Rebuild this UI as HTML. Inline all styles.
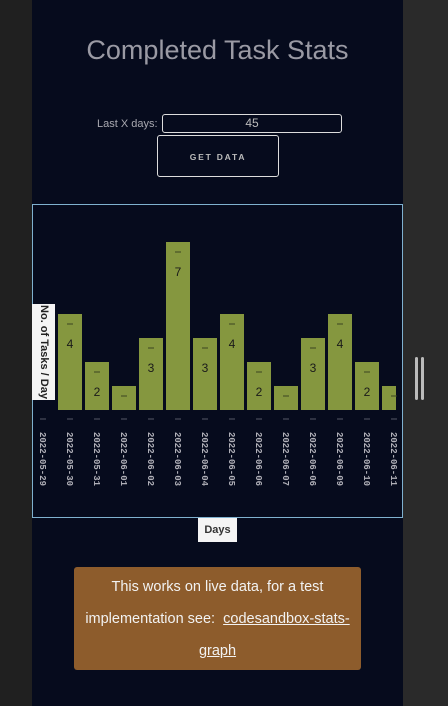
<!DOCTYPE html>
<html><head><meta charset="utf-8"><style>
body{margin:0;width:448px;height:706px;background:#202020;overflow:hidden;font-family:"Liberation Sans",sans-serif;position:relative}
#panel{position:absolute;left:32px;top:0;width:371px;height:706px;background:#060b1d}
#right{position:absolute;left:403px;top:0;width:45px;height:706px;background:#2a2a2a}
.abs{position:absolute}
</style></head><body>
<div id="right"></div>
<div class="abs" style="left:415px;top:357px;width:3px;height:43px;background:#bbb;border-radius:2px"></div>
<div class="abs" style="left:421px;top:357px;width:3px;height:43px;background:#bbb;border-radius:2px"></div>
<div id="panel"></div>
<div class="abs" style="left:32px;width:371px;top:35px;text-align:center;color:#9a9aa4;font-size:27px">Completed Task Stats</div>
<div class="abs" style="left:97px;top:118px;color:#a8a8b0;font-size:11px">Last X days:</div>
<div class="abs" style="left:162px;top:114px;width:178px;height:17px;border:1.5px solid #ddd;border-radius:3px;color:#bbb;font-size:12px;text-align:center;line-height:17px">45</div>
<div class="abs" style="left:157px;top:135px;width:120px;height:40px;border:1.5px solid #ddd;border-radius:3px;color:#bbb;font-size:8.5px;font-weight:bold;letter-spacing:1.8px;text-align:center;line-height:42px">GET DATA</div>
<svg class="abs" style="left:0;top:0" width="448" height="706" id="chart">
<rect x="32.5" y="204.5" width="370" height="313" fill="none" stroke="#7fb1cf" stroke-width="1"/>
<g id="bars"></g><g id="labels"></g>
</svg>
<div class="abs" style="left:32px;top:304px;width:23px;height:96px;background:#f4f4f4;"><div style="position:absolute;left:12px;top:48px;transform:translate(-50%,-50%) rotate(90deg);white-space:nowrap;font-size:11px;font-weight:bold;color:#222">No. of Tasks / Day</div></div>
<div class="abs" style="left:198px;top:518px;width:39px;height:24px;background:#f4f4f4;font-size:11px;font-weight:bold;color:#333;text-align:center;line-height:24px">Days</div>
<div class="abs" style="left:74px;top:567px;width:287px;height:103px;background:#8d5c2c;border-radius:3px;color:#f2f2f2;font-size:14.5px;text-align:center;line-height:32px;padding-top:4px;box-sizing:border-box">This works on live data, for a test implementation see:&nbsp; <span style="text-decoration:underline">codesandbox-stats-graph</span></div>
<script>
const labels=["2022-05-29","2022-05-30","2022-05-31","2022-06-01","2022-06-02","2022-06-03","2022-06-04","2022-06-05","2022-06-06","2022-06-07","2022-06-06","2022-06-09","2022-06-10","2022-06-11"];
const values=[0,4,2,1,3,7,3,4,2,1,3,4,2,1];
const NS="http://www.w3.org/2000/svg";
const x0=31,step=27,bw=24,base=410,unit=24;
const xs=i=>x0+i*step, ys=v=>base-v*unit;
const gb=document.getElementById('bars'),gl=document.getElementById('labels');
values.forEach((v,i)=>{
 const x=xs(i);
 if(v>0){
  const r=document.createElementNS(NS,'rect');
  r.setAttribute('x',x);r.setAttribute('y',ys(v));r.setAttribute('width',Math.min(bw,396-x));r.setAttribute('height',v*unit);r.setAttribute('fill','#85973f');
  
  
  gb.appendChild(r);
  const d=document.createElementNS(NS,'line');
  d.setAttribute('x1',x+9);d.setAttribute('x2',x+15);d.setAttribute('y1',ys(v)+10);d.setAttribute('y2',ys(v)+10);d.setAttribute('stroke','#3a4420');
  gb.appendChild(d);
  if(v>1){
   const t=document.createElementNS(NS,'text');
   t.setAttribute('x',x+12);t.setAttribute('y',ys(v)+34);t.setAttribute('text-anchor','middle');t.setAttribute('font-size','12');t.setAttribute('fill','#1a1a1a');
   t.textContent=v;
   
   
   gb.appendChild(t);
  }
 }
 const tk=document.createElementNS(NS,'line');
 tk.setAttribute('x1',x+9);tk.setAttribute('x2',x+15);tk.setAttribute('y1',base+9);tk.setAttribute('y2',base+9);tk.setAttribute('stroke','#555a66');
 if(x+12<400) gb.appendChild(tk);
 const t=document.createElementNS(NS,'text');
 t.setAttribute('x',0);t.setAttribute('y',0);t.setAttribute('font-size','9');t.setAttribute('fill','#b0b0b8');t.setAttribute('font-weight','bold');t.setAttribute('font-family','Liberation Mono, monospace');
 t.setAttribute('transform','translate('+(x+12-3)+',432) rotate(90)');
 t.textContent=labels[i];
 
 
 gl.appendChild(t);
});
</script>
</body></html>
